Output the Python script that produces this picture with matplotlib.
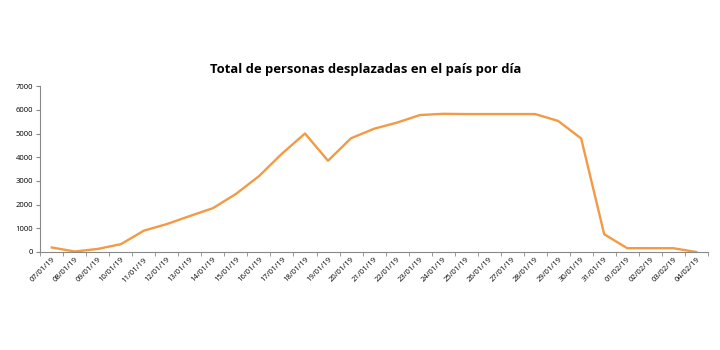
import matplotlib
matplotlib.use("Agg")
import matplotlib.pyplot as plt
import numpy as np

dates = ["07/01/19", "08/01/19", "09/01/19", "10/01/19", "11/01/19", "12/01/19",
         "13/01/19", "14/01/19", "15/01/19", "16/01/19", "17/01/19", "18/01/19",
         "19/01/19", "20/01/19", "21/01/19", "22/01/19", "23/01/19", "24/01/19",
         "25/01/19", "26/01/19", "27/01/19", "28/01/19", "29/01/19", "30/01/19",
         "31/01/19", "01/02/19", "02/02/19", "03/02/19", "04/02/19"]
desplazados = [190, 20, 130, 330, 900, 1180, 1520, 1850, 2450, 3200, 4150, 5000,
               3850, 4800, 5200, 5460, 5780, 5830, 5820, 5820, 5820, 5820, 5530,
               4790, 750, 160, 160, 160, 0]

plt.rcParams['font.family'] = ['Open Sans', 'DejaVu Sans']

fig = plt.figure(figsize=(7.2, 3.5), dpi=100)
ax = fig.add_axes([0.056, 0.28, 0.927, 0.474])

x = np.arange(len(dates))
ax.plot(x, desplazados, color='#F29A44', linewidth=1.7, solid_joinstyle='round')

ax.set_xlim(-0.5, len(dates) - 0.5)
ax.set_ylim(0, 7000)
ax.set_yticks(range(0, 7001, 1000))
ax.tick_params(axis='y', labelsize=5.5, length=3, color='#888888', pad=2)

# Excel-style: labels at category centres, tick marks between categories
ax.set_xticks(x)
ax.set_xticklabels(dates, rotation=45, ha='right', rotation_mode='anchor', fontsize=5.5)
ax.tick_params(axis='x', length=0, pad=3)
ax.set_xticks(np.arange(-0.5, len(dates)), minor=True)
ax.tick_params(axis='x', which='minor', length=3, color='#888888')

for side in ['top', 'right']:
    ax.spines[side].set_visible(False)
for side in ['left', 'bottom']:
    ax.spines[side].set_color('#888888')
    ax.spines[side].set_linewidth(0.8)

fig.suptitle('Total de personas desplazadas en el país por día', fontsize=9.4,
             fontweight='bold', x=0.508, y=0.82)

fig.savefig('out.png', dpi=100)
